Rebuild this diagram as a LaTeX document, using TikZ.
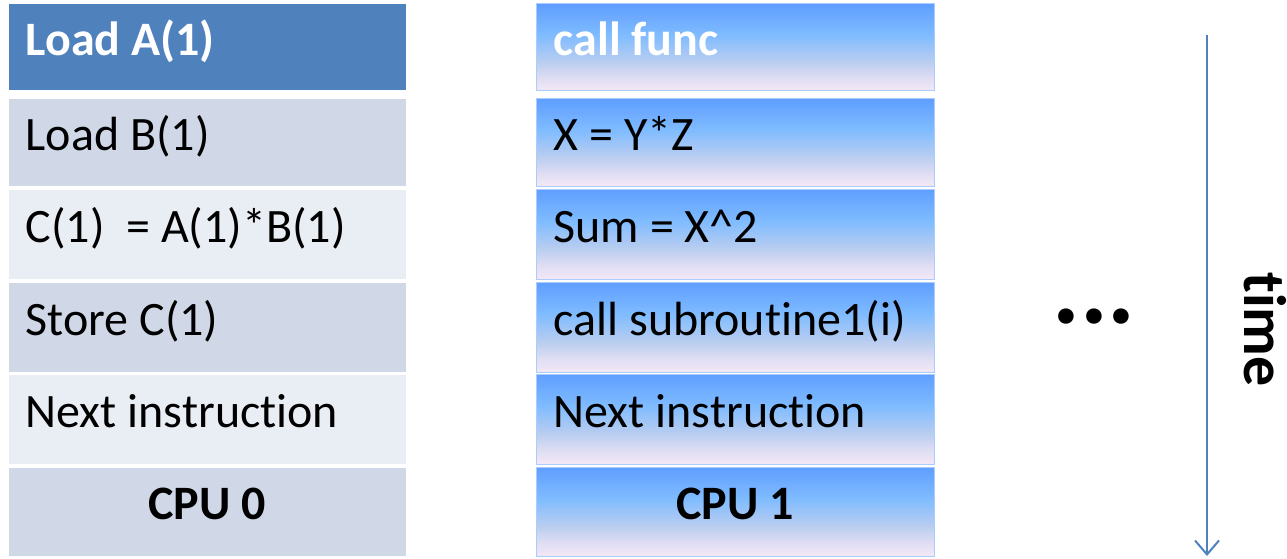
\documentclass[tikz,border=0pt]{standalone}
\usepackage{fontspec}
\setmainfont[Ligatures=NoCommon]{Carlito}
\usetikzlibrary{calc,arrows.meta}

\definecolor{hdblue}{RGB}{79,129,189}
\definecolor{rowdark}{RGB}{208,216,232}
\definecolor{rowlight}{RGB}{233,237,244}
\definecolor{gtop}{RGB}{95,158,255}
\definecolor{gmid}{RGB}{128,188,255}
\definecolor{glow}{RGB}{185,205,240}
\definecolor{gpale}{RGB}{225,222,243}
\definecolor{gbot}{RGB}{243,232,247}
% 0bp 在底部, 100bp 在顶部
\pgfdeclareverticalshading{cpugrad}{100bp}{color(0bp)=(gbot); color(25bp)=(gbot);
  color(32bp)=(gpale); color(42bp)=(glow); color(57bp)=(gmid); color(75bp)=(gtop); color(100bp)=(gtop)}

\tikzset{
  cell/.style={draw=white, line width=1pt, minimum width=398pt, inner sep=0pt},
  gradcell/.style={cell, draw={rgb,255:red,170;green,205;blue,255}, shading=cpugrad},
  txt/.style={font=\fontsize{48}{56}\selectfont, anchor=base west, inner sep=0pt},
  txtb/.style={font=\fontsize{48}{56}\selectfont\bfseries, anchor=base west, inner sep=0pt},
  timeline/.style={draw=hdblue, line width=2pt, -{Straight Barb[length=14pt,width=24pt]}}
}

\begin{document}
\begin{tikzpicture}[x=1pt, y=-1pt]
  \useasboundingbox (0,0) rectangle (1287,559);

  % 两列方格: 行号/中心/高度/左列颜色
  \foreach \n/\yc/\h/\c in {1/47.5/87/hdblue, 2/142.5/87/rowdark, 3/234/90/rowlight,
                            4/327/90/rowdark, 5/419/90/rowlight, 6/511.5/89/rowdark}
  {
    \node[cell, fill=\c, minimum height=\h pt] (L\n) at (207,\yc) {};
    \node[gradcell, minimum height=\h pt] (R\n) at (735,\yc) {};
  }

  % CPU 0 的指令
  \node[txtb, white] (tL1) at ($(L1.west)+(18,8)$) {Load A(1)};
  \node[txt] (tL2) at ($(L2.west)+(18,8)$) {Load B(1)};
  \node[txt] (tL3) at ($(L3.west)+(18,8)$) {C(1)\ \ = A(1)*B(1)};
  \node[txt] (tL4) at ($(L4.west)+(18,8)$) {Store C(1)};
  \node[txt] (tL5) at ($(L5.west)+(18,8)$) {Next instruction};
  \node[txtb, anchor=base] (tL6) at ($(L6.center)+(0,8)$) {CPU 0};

  % CPU 1 的指令
  \node[txtb, white] (tR1) at ($(R1.west)+(18,8)$) {call func};
  \node[txt] (tR2) at ($(R2.west)+(18,8)$) {X = Y*Z};
  \node[txt] (tR3) at ($(R3.west)+(18,8)$) {Sum = X\^{}2};
  \node[txt] (tR4) at ($(R4.west)+(18,8)$) {call subroutine1(i)};
  \node[txt] (tR5) at ($(R5.west)+(18,8)$) {Next instruction};
  \node[txtb, anchor=base] (tR6) at ($(R6.center)+(0,8)$) {CPU 1};

  \node[font=\fontsize{104}{104}\selectfont\bfseries, anchor=base, inner sep=0pt] (dots) at (1094,323) {...};

  % 时间轴
  \coordinate (t0) at (1207,35);
  \coordinate (t1) at (1207,556);
  \draw[timeline] (t0) -- (t1);
  \node[font=\fontsize{60}{60}\selectfont\bfseries, rotate=-90, anchor=base west, inner sep=0pt] (time) at (1244,272) {time};
\end{tikzpicture}
\end{document}
